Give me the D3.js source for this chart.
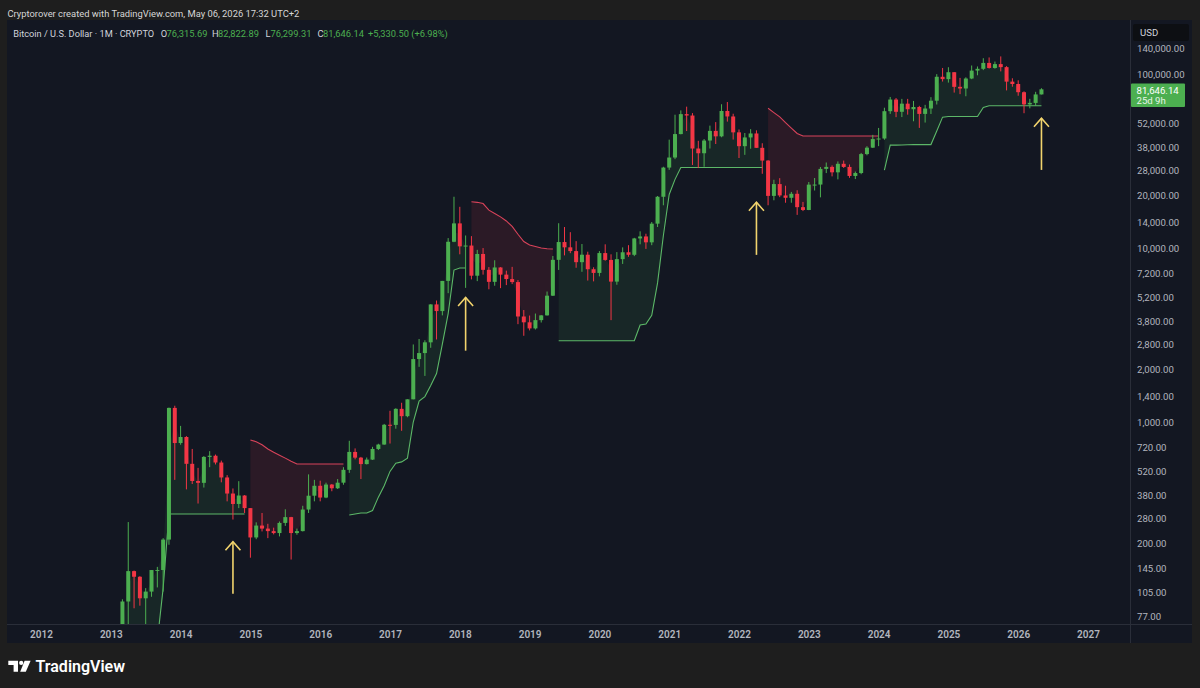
<!DOCTYPE html>
<html>
<head>
<meta charset="utf-8">
<script src="https://cdn.jsdelivr.net/npm/d3@7"></script>
<style>
	html, body { margin: 0; padding: 0; background: #1e1e1e; }
	svg { display: block; }
</style>
</head>
<body>
<div id="chart"></div>
<script>
'use strict';

/**
 * BTCUSD monthly candles on a log scale with a supertrend overlay,
 * redrawn after a TradingView snapshot
 */

var width = 1200;
var height = 688;

// the first candle is March 2013, months are counted from January 2012
var first_month = "2013-03";

// monthly OHLC, one line per year (2013 starts in March, 2026 ends in May)
var opens = [
	33.4, 93, 139, 129, 97, 106, 141, 141, 211, 1205,
	757, 820, 575, 458, 447, 630, 640, 585, 480, 388, 338, 378,
	320, 217, 254, 244, 236, 230, 263, 284, 230, 236, 314, 377,
	430, 368, 437, 416, 448, 531, 673, 624, 573, 608, 700, 742,
	964, 962, 1190, 1080, 1350, 2300, 2490, 2870, 4740, 4340, 6470, 10860,
	13850, 10220, 10330, 6930, 9240, 7490, 6390, 7730, 7030, 6630, 6370, 4040,
	3740, 3450, 3850, 4100, 5320, 8550, 10820, 10090, 9600, 8290, 9150, 7550,
	7190, 9350, 8540, 6410, 8630, 9450, 9140, 11350, 11650, 10780, 13800, 19700,
	28990, 33110, 45160, 58800, 57720, 37300, 35040, 41460, 47100, 43820, 61300, 57000,
	46200, 38480, 43190, 45530, 37640, 31800, 19930, 23300, 20050, 19430, 20490, 17170,
	16540, 23130, 23150, 28480, 29250, 27220, 30470, 29230, 25940, 26970, 34650, 37720,
	42280, 42580, 61130, 71330, 60640, 67530, 62750, 64620, 58970, 63330, 70220, 96400,
	93430, 102400, 84350, 82550, 94200, 104600, 107100, 115800, 108300, 114000, 109500, 90400,
	87600, 78600, 66900, 68200, 76315.69
];
var highs = [
	95.7, 266, 140, 130, 111, 141, 147, 215, 1210, 1240,
	950, 830, 700, 545, 637, 680, 650, 600, 495, 415, 457, 380,
	320, 265, 300, 260, 247, 268, 315, 285, 244, 330, 500, 465,
	460, 448, 440, 470, 550, 780, 705, 630, 625, 720, 750, 975,
	1160, 1200, 1290, 1350, 2790, 3000, 2950, 4750, 4990, 6470, 11400, 19700,
	17250, 11800, 11700, 9760, 9990, 7770, 8500, 7760, 7410, 7790, 6540, 4400,
	4090, 4200, 4110, 5620, 9000, 13880, 13200, 12330, 10950, 10540, 9520, 7750,
	9600, 10500, 9200, 9470, 10080, 10380, 11440, 12470, 12080, 14100, 19900, 29300,
	41950, 58350, 61780, 64900, 59600, 41300, 42300, 50500, 52900, 67000, 69000, 59100,
	47990, 45800, 48200, 47450, 40000, 31990, 24670, 25200, 22800, 21000, 21480, 18400,
	23950, 25250, 29200, 31000, 29840, 31440, 31800, 30200, 27500, 35200, 38450, 44700,
	48970, 64000, 73800, 72750, 71950, 71950, 70000, 65600, 66500, 73600, 99800, 108300,
	109350, 102500, 95000, 95700, 111900, 110500, 123200, 124500, 117900, 126200, 111000, 94500,
	92000, 79500, 72000, 79000, 82822.89
];
var lows = [
	33.1, 50, 85, 88, 65, 99, 112, 106, 197, 465,
	740, 410, 440, 340, 420, 550, 570, 450, 350, 275, 320, 300,
	166, 212, 235, 215, 226, 220, 253, 162, 225, 235, 300, 350,
	350, 365, 400, 412, 436, 510, 610, 470, 570, 605, 690, 740,
	752, 915, 890, 1065, 1350, 2075, 1840, 2670, 2980, 4100, 5500, 10800,
	9200, 5900, 6600, 6450, 7030, 5790, 6070, 5880, 6120, 6200, 3650, 3130,
	3360, 3400, 3730, 4090, 5300, 7480, 9070, 9340, 7700, 7300, 6500, 6430,
	6870, 8450, 3850, 6150, 8100, 8900, 8980, 10500, 9880, 10380, 13200, 17600,
	28130, 32400, 45000, 47000, 30000, 28800, 29300, 37300, 39600, 43300, 53250, 42000,
	32900, 34300, 37200, 37600, 26700, 17600, 18800, 19600, 18200, 18200, 15500, 16300,
	16500, 21400, 19550, 26950, 25800, 24800, 28860, 25300, 24900, 26550, 34100, 37600,
	38500, 41880, 59000, 56500, 56550, 58400, 53500, 49000, 52600, 58900, 66800, 90500,
	89250, 78200, 76600, 74500, 93400, 98300, 105300, 107400, 107300, 103500, 80500, 84500,
	75000, 59500, 63500, 65500, 76299.31
];
var closes = [
	93, 139, 129, 97, 106, 141, 141, 211, 1205, 757,
	820, 575, 458, 447, 630, 640, 585, 480, 388, 338, 378, 320,
	217, 254, 244, 236, 230, 263, 284, 230, 236, 314, 377, 430,
	368, 437, 416, 448, 531, 673, 624, 573, 608, 700, 742, 964,
	962, 1190, 1080, 1350, 2300, 2490, 2870, 4740, 4340, 6470, 10860, 13850,
	10220, 10330, 6930, 9240, 7490, 6390, 7730, 7030, 6630, 6370, 4040, 3740,
	3450, 3850, 4100, 5320, 8550, 10820, 10090, 9600, 8290, 9150, 7550, 7190,
	9350, 8540, 6410, 8630, 9450, 9140, 11350, 11650, 10780, 13800, 19700, 28990,
	33110, 45160, 58800, 57720, 37300, 35040, 41460, 47100, 43820, 61300, 57000, 46200,
	38480, 43190, 45530, 37640, 31800, 19930, 23300, 20050, 19430, 20490, 17170, 16540,
	23130, 23150, 28480, 29250, 27220, 30470, 29230, 25940, 26970, 34650, 37720, 42280,
	42580, 61130, 71330, 60640, 67530, 62750, 64620, 58970, 63330, 70220, 96400, 93430,
	102400, 84350, 82550, 94200, 104600, 107100, 115800, 108300, 114000, 109500, 90400, 87600,
	78600, 66900, 68200, 76315.69, 81646.14
];

// supertrend level for every candle
var trend_values = [
	25, 30, 35, 40, 45, 50, 55, 111, 296, 296,
	296, 296, 296, 296, 296, 296, 296, 296, 296, 296, 296, 296,
	788, 770, 740, 700, 670, 645, 620, 595, 574, 574, 574, 574,
	574, 574, 574, 574, 574, 292, 296, 300, 300, 310, 370, 430,
	520, 580, 590, 620, 1000, 1320, 1400, 1620, 1900, 2800, 4200, 7470,
	7680, 7680, 18460, 18300, 18000, 16500, 15800, 15100, 14300, 13300, 12000, 10900,
	10400, 10200, 10000, 9900, 9870, 2930, 2930, 2930, 2930, 2930, 2930, 2930,
	2930, 2930, 2930, 2930, 2930, 2930, 2930, 3610, 3660, 4100, 6300, 11800,
	20300, 24800, 29000, 29000, 29000, 29000, 29000, 29000, 29000, 29000, 29000, 29000,
	29000, 29000, 29000, 29000, 29000, 63500, 60000, 56700, 52500, 48900, 45500, 44000,
	44000, 44000, 44000, 44000, 44000, 44000, 44000, 44000, 44000, 44000, 44000, 44000,
	44000, 28000, 39000, 39000, 39100, 39200, 39300, 39300, 39300, 39300, 47000, 56500,
	57000, 57000, 57000, 57000, 57000, 57000, 64300, 65700, 65700, 65700, 65700, 65700,
	65700, 65700, 65700, 65700, 65700
];

// month where each supertrend run starts, and its direction
var trend_starts = ["2013-03", "2015-01", "2016-06", "2018-03", "2019-06", "2022-06", "2024-02"];
var trend_dirs = ["up", "down", "up", "down", "up", "down", "up"];

var price_ticks = [140000, 100000, 52000, 38000, 28000, 20000, 14000, 10000, 7200, 5200,
	3800, 2800, 2000, 1400, 1000, 720, 520, 380, 280, 200, 145, 105, 77];
var year_ticks = [2012, 2013, 2014, 2015, 2016, 2017, 2018, 2019, 2020, 2021,
	2022, 2023, 2024, 2025, 2026, 2027];

// yellow arrows: month, price at the tip, price at the tail
var arrow_months = ["2014-10", "2018-02", "2022-04", "2026-05"];
var arrow_tips = [205, 5200, 18300, 55700];
var arrow_tails = [103, 2570, 9130, 28100];

var legend_values = ["76,315.69", "82,822.89", "76,299.31", "81,646.14"];
var legend_change = "+5,330.50 (+6.98%)";
var last_price = "81,646.14";
var last_countdown = "25d 9h";

var colors = {
	panel: "#131722",
	grid_line: "#2a2e39",
	up: "#4caf50",
	down: "#f23645",
	up_line: "#5cb868",
	down_line: "#d8435a",
	up_fill: "rgba(76,175,80,0.11)",
	down_fill: "rgba(242,54,69,0.11)",
	text: "#d1d4dc",
	axis_text: "#b2b5be",
	arrow: "#f2d46d"
};

var font = "Roboto, 'Noto Sans', sans-serif";

// plot frame
var panel = {left: 7, top: 20, right: 1192, bottom: 643};
var plot_right = 1130.5;
var plot_bottom = 624;

// months since Jan 2012 -> pixels, price -> pixels (log)
var x_scale = d3.scaleLinear().domain([0, 180]).range([41, 1088]);
var y_scale = d3.scaleLog().domain([100000, 1000]).range([74, 422]);

var svg = undefined;

function month_index(s) {
	var parts = s.split("-");
	return (+parts[0] - 2012) * 12 + (+parts[1] - 1);
}

// shrink or grow a text node's font size so it spans target_w pixels
function fit_text(node, target_w) {
	var w = node.getComputedTextLength();
	var size = parseFloat(node.getAttribute("font-size"));
	if (w > 0) {
		node.setAttribute("font-size", (size * target_w / w).toFixed(2));
	}
}

function build_candles() {
	var start = month_index(first_month);
	return opens.map(function(o, k) {
		return {
			i: start + k,
			open: o,
			high: highs[k],
			low: lows[k],
			close: closes[k],
			trend: trend_values[k]
		};
	});
}

function create_svg() {
	svg = d3.select("#chart").append("svg")
		.attr("width", width)
		.attr("height", height);

	svg.append("rect")
		.attr("width", width)
		.attr("height", height)
		.style("fill", "#1e1e1e");

	svg.append("rect")
		.attr("x", panel.left)
		.attr("y", panel.top)
		.attr("width", panel.right - panel.left)
		.attr("height", panel.bottom - panel.top)
		.style("fill", colors.panel);

	// separators for the price axis and the time axis
	svg.append("line")
		.attr("x1", plot_right).attr("x2", plot_right)
		.attr("y1", panel.top).attr("y2", panel.bottom)
		.style("stroke", colors.grid_line).style("stroke-width", 1);
	svg.append("line")
		.attr("x1", panel.left).attr("x2", panel.right)
		.attr("y1", plot_bottom + 0.5).attr("y2", plot_bottom + 0.5)
		.style("stroke", colors.grid_line).style("stroke-width", 1);

	svg.append("clipPath").attr("id", "plot_clip")
		.append("rect")
		.attr("x", panel.left)
		.attr("y", panel.top)
		.attr("width", plot_right - panel.left)
		.attr("height", plot_bottom - panel.top);
}

function draw_trend(candles) {
	var g = svg.append("g").attr("clip-path", "url(#plot_clip)");

	var area = d3.area()
		.x(function(d) { return x_scale(d.i); })
		.y0(function(d) { return y_scale(d.trend); })
		.y1(function(d) { return y_scale((d.open + d.close) / 2); });

	var line = d3.line()
		.x(function(d) { return x_scale(d.i); })
		.y(function(d) { return y_scale(d.trend); });

	for (var s = 0; s < trend_starts.length; s++) {
		var from = month_index(trend_starts[s]);
		var to = s + 1 < trend_starts.length ? month_index(trend_starts[s + 1]) : Infinity;
		var seg = candles.filter(function(d) { return d.i >= from && d.i < to; });
		var up = trend_dirs[s] == "up";

		g.append("path")
			.datum(seg)
			.attr("d", area)
			.style("fill", up ? colors.up_fill : colors.down_fill)
			.style("stroke", "none");

		g.append("path")
			.datum(seg)
			.attr("d", line)
			.style("fill", "none")
			.style("stroke", up ? colors.up_line : colors.down_line)
			.style("stroke-width", 1.1);
	}
}

function draw_candles(candles) {
	var g = svg.append("g").attr("clip-path", "url(#plot_clip)");
	var body_w = 4;

	var c = g.selectAll(".candle").data(candles).enter()
		.append("g").attr("class", "candle");

	c.append("line")
		.attr("x1", function(d) { return x_scale(d.i); })
		.attr("x2", function(d) { return x_scale(d.i); })
		.attr("y1", function(d) { return y_scale(d.high); })
		.attr("y2", function(d) { return y_scale(d.low); })
		.style("stroke", function(d) { return d.close >= d.open ? colors.up : colors.down; })
		.style("stroke-width", 1);

	c.append("rect")
		.attr("x", function(d) { return x_scale(d.i) - body_w / 2; })
		.attr("width", body_w)
		.attr("y", function(d) { return y_scale(Math.max(d.open, d.close)); })
		.attr("height", function(d) {
			return Math.max(1, Math.abs(y_scale(d.open) - y_scale(d.close)));
		})
		.style("fill", function(d) { return d.close >= d.open ? colors.up : colors.down; });
}

function draw_arrows() {
	var g = svg.append("g");

	arrow_months.forEach(function(m, k) {
		var x = x_scale(month_index(m));
		var tip = y_scale(arrow_tips[k]);
		var tail = y_scale(arrow_tails[k]);

		g.append("line")
			.attr("x1", x).attr("x2", x)
			.attr("y1", tip).attr("y2", tail)
			.style("stroke", colors.arrow)
			.style("stroke-width", 1.6);

		g.append("path")
			.attr("d", "M" + (x - 7.5) + "," + (tip + 8.5) + "L" + x + "," + tip +
				"L" + (x + 7.5) + "," + (tip + 8.5))
			.style("fill", "none")
			.style("stroke", colors.arrow)
			.style("stroke-width", 1.6)
			.style("stroke-linejoin", "miter");
	});
}

function draw_axes() {
	// price axis labels
	var y_axis = d3.axisRight(y_scale)
		.tickValues(price_ticks)
		.tickFormat(d3.format(",.2f"))
		.tickSize(0)
		.tickPadding(0);

	var yg = svg.append("g")
		.attr("transform", "translate(1137,0)")
		.call(y_axis);
	yg.select(".domain").remove();
	yg.selectAll("text")
		.attr("x", 0)
		.attr("dy", "0.35em")
		.style("font-family", font)
		.style("font-size", "9.6px")
		.style("fill", colors.axis_text);

	// time axis labels, one per January
	var x_axis = d3.axisBottom(x_scale)
		.tickValues(year_ticks.map(function(y) { return (y - 2012) * 12; }))
		.tickFormat(function(d) { return 2012 + d / 12; })
		.tickSize(0)
		.tickPadding(0);

	var xg = svg.append("g")
		.attr("transform", "translate(0,634.5)")
		.call(x_axis);
	xg.select(".domain").remove();
	xg.selectAll("text")
		.attr("y", 0)
		.attr("dy", "0.35em")
		.style("font-family", font)
		.style("font-size", "10px")
		.style("font-weight", 600)
		.style("fill", colors.axis_text);

	// currency box
	svg.append("rect")
		.attr("x", 1133).attr("y", 24)
		.attr("width", 56).attr("height", 17)
		.attr("rx", 2)
		.style("fill", "#0d0f13");
	svg.append("text")
		.attr("x", 1140).attr("y", 32.8)
		.attr("dy", "0.35em")
		.attr("font-size", 9.6)
		.style("font-family", font)
		.style("fill", colors.text)
		.text("USD");

	// last price marker
	svg.append("rect")
		.attr("x", 1131).attr("y", 83.5)
		.attr("width", 54).attr("height", 23.5)
		.attr("rx", 1)
		.style("fill", colors.up);
	svg.append("text")
		.attr("x", 1136.5).attr("y", 90.5)
		.attr("dy", "0.35em")
		.attr("font-size", 9.6)
		.style("font-family", font)
		.style("fill", "#ffffff")
		.text(last_price);
	svg.append("text")
		.attr("x", 1136.5).attr("y", 100.8)
		.attr("dy", "0.35em")
		.attr("font-size", 9.6)
		.style("font-family", font)
		.style("fill", "#e6f4e7")
		.text(last_countdown);
}

function draw_texts() {
	var header = svg.append("text")
		.attr("x", 7.5).attr("y", 13.5)
		.attr("dy", "0.35em")
		.attr("font-size", 10)
		.style("font-family", font)
		.style("fill", "#d6d6d6")
		.text("Cryptorover created with TradingView.com, May 06, 2026 17:32 UTC+2");
	fit_text(header.node(), 292);

	var title = svg.append("text")
		.attr("x", 13.3).attr("y", 33.3)
		.attr("dy", "0.35em")
		.attr("font-size", 10)
		.style("font-family", font)
		.style("fill", colors.text)
		.text("Bitcoin / U.S. Dollar \u00b7 1M \u00b7 CRYPTO");
	fit_text(title.node(), 141);

	var keys = ["O", "H", "L", "C"];
	var key_x = [160.7, 212, 265.5, 317.5];
	var value_x = [166.5, 218, 270.5, 323];

	keys.forEach(function(k, n) {
		svg.append("text")
			.attr("x", key_x[n]).attr("y", 33.3)
			.attr("dy", "0.35em")
			.attr("font-size", 9.3)
			.style("font-family", font)
			.style("fill", colors.text)
			.text(k);
		svg.append("text")
			.attr("x", value_x[n]).attr("y", 33.3)
			.attr("dy", "0.35em")
			.attr("font-size", 9.3)
			.style("font-family", font)
			.style("fill", colors.up)
			.text(legend_values[n]);
	});

	svg.append("text")
		.attr("x", 368).attr("y", 33.3)
		.attr("dy", "0.35em")
		.attr("font-size", 9.3)
		.style("font-family", font)
		.style("fill", colors.up)
		.text(legend_change);

	// TradingView logo, bottom left under the chart
	var logo = svg.append("g")
		.attr("transform", "translate(0,600)")
		.style("fill", "#ffffff");
	logo.append("path")
		.attr("d", "M8.3,60.8H18V71.8H13.6V64.9H8.3Z");
	logo.append("circle")
		.attr("cx", 21.2).attr("cy", 62.9).attr("r", 2.1);
	logo.append("path")
		.attr("d", "M24.6,60.8H30.6L25.8,71.8H20.2Z");
	logo.append("text")
		.attr("x", 35.5).attr("y", 66.5)
		.attr("dy", "0.35em")
		.attr("font-size", 16)
		.style("font-family", font)
		.style("font-weight", 600)
		.text("TradingView");
}

var candles = build_candles();
create_svg();
draw_trend(candles);
draw_candles(candles);
draw_arrows();
draw_axes();
draw_texts();
</script>
</body>
</html>
